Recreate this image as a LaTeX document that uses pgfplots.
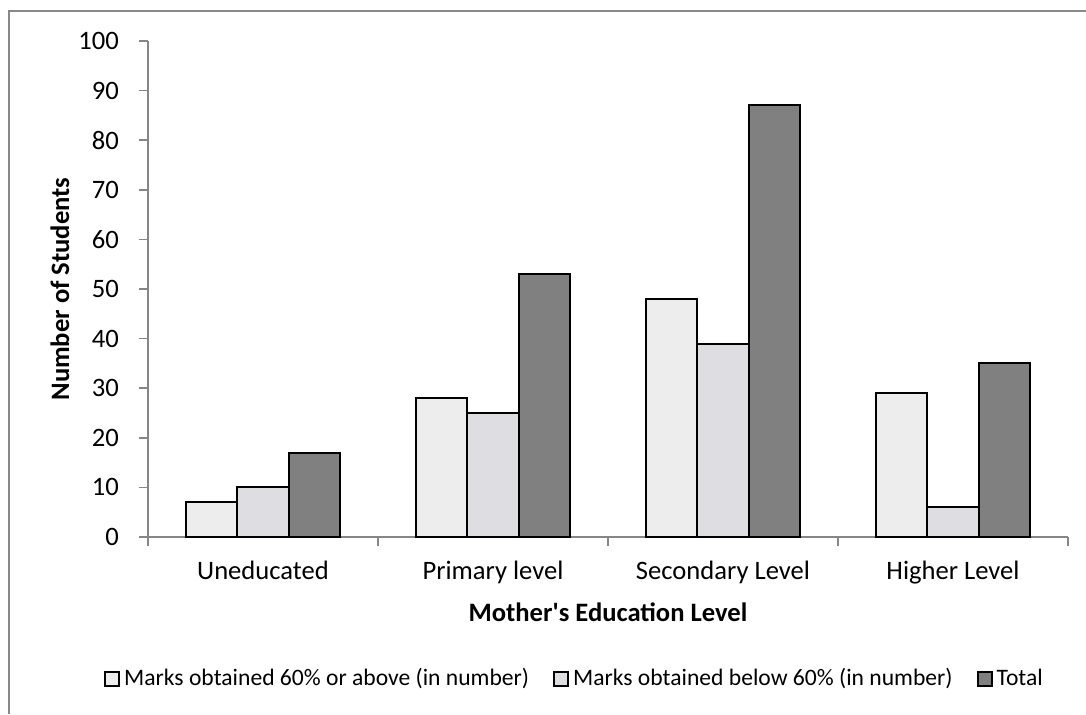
\documentclass[border=0pt]{standalone}
\usepackage{fontspec}
\setmainfont{Carlito}
\usepackage{pgfplots}
\pgfplotsset{compat=1.18}
\definecolor{framegray}{RGB}{137,137,137}
\definecolor{axgray}{RGB}{134,134,134}
\definecolor{sone}{RGB}{237,237,237}
\definecolor{stwo}{RGB}{221,221,226}
\definecolor{stot}{RGB}{128,128,128}
\begin{document}
\begin{tikzpicture}
\path[use as bounding box] (0,0) rectangle (543pt,357pt);
\draw[framegray, line width=0.75pt] (4.5pt,0) -- (4.5pt,351.5pt) -- (543pt,351.5pt);
\begin{axis}[
  at={(74pt,88.5pt)}, anchor=south west,
  scale only axis, width=460pt, height=248pt,
  xmin=-0.5, xmax=3.5, ymin=0, ymax=100,
  ytick={0,10,...,100},
  xtick={-0.5,0.5,1.5,2.5,3.5},
  x tick label as interval,
  xticklabels={Uneducated, Primary level, Secondary Level, Higher Level},
  axis lines*=left,
  axis line style={axgray, line width=0.75pt},
  tick style={axgray, line width=0.75pt},
  tick align=outside,
  major tick length=4.5pt,
  tick label style={font=\fontsize{13.3}{16}\selectfont},
  yticklabel style={xshift=-6.5pt},
  xticklabel style={yshift=-4pt},
  /pgf/number format/assume math mode=true,
  label style={font=\bfseries\fontsize{13.3}{16}\selectfont},
  xlabel={Mother\textquotesingle s Education Level},
  ylabel={Number of Students},
  xlabel style={at={(axis description cs:0.5,-0.151)}, anchor=center},
  ylabel style={at={(axis description cs:-0.0957,0.5)}, anchor=center},
  ybar=0pt, bar width=0.222,
  legend columns=3,
  legend image code/.code={\draw[#1] (0pt,-3.5pt) rectangle (7pt,3.5pt);},
  legend style={font=\fontsize{11.8}{14}\selectfont, draw=none, fill=none,
    at={(0.4647,-0.286)}, anchor=center,
    /tikz/every even column/.append style={column sep=10pt}},
]
\addplot[fill=sone, draw=black, line width=1pt, bar shift=-0.222] coordinates {(0,7) (1,28) (2,48) (3,29)};
\addplot[fill=stwo, draw=black, line width=1pt, bar shift=0] coordinates {(0,10) (1,25) (2,39) (3,6)};
\addplot[fill=stot, draw=black, line width=1pt, bar shift=0.222] coordinates {(0,17) (1,53) (2,87) (3,35)};
\legend{Marks obtained 60\% or above (in number), Marks obtained below 60\% (in number), Total}
\end{axis}
\end{tikzpicture}
\end{document}
